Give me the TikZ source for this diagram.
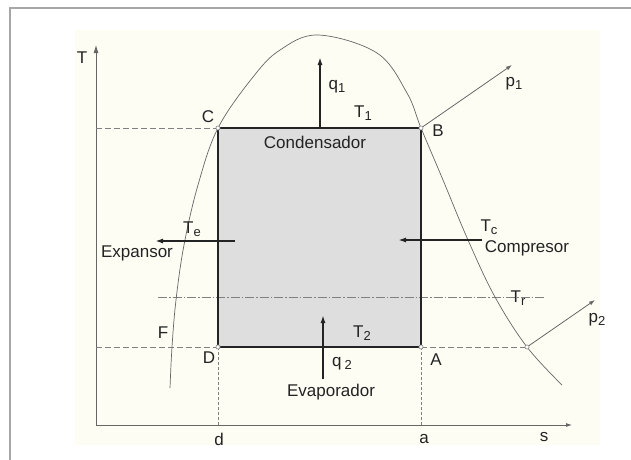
\documentclass[tikz,border=0pt]{standalone}
\usepackage{fontspec}
\setmainfont{Liberation Sans}
\usetikzlibrary{arrows.meta,positioning}
\definecolor{cream}{RGB}{253,253,244}
\definecolor{ink}{RGB}{35,35,35}
\newcommand{\lowidx}[1]{\raisebox{-0.35ex}{\fontsize{13}{14}\selectfont #1}}
\tikzset{
  lbl/.style={font=\fontsize{17}{19}\selectfont, text=ink, inner sep=1pt},
  vtx/.style={circle, draw=gray, fill=white, inner sep=1.5pt, line width=0.6pt},
  guide/.style={gray, dash pattern=on 6pt off 3pt, line width=0.8pt},
  heat/.style={->, line width=1.6pt, draw=ink},
  press/.style={-{Latex[length=6pt,width=4pt]}, gray!80!black, line width=0.8pt}
}
\begin{document}
\begin{tikzpicture}[x=1pt, y=-1pt, >={Latex[length=8pt,width=5pt]}]
  \useasboundingbox (0,0) rectangle (631,459);
  \fill[cream] (75,30) rectangle (600,445);
  \draw[gray!70, line width=1.3pt] (10,8) rectangle (680,500);

  % axes
  \coordinate (O) at (96,425);
  \coordinate (Ttop) at (96,45);
  \coordinate (Send) at (572,425);
  \draw[->, gray!80!black, line width=0.8pt] (O) -- (Ttop);
  \draw[press] (O) -- (Send);
  \node[lbl] (T) at (82,58) {T};
  \node[lbl] (s) at (544,437) {s};

  % cycle corners
  \coordinate (C) at (218,128);
  \coordinate (B) at (421,128);
  \coordinate (D) at (218,347);
  \coordinate (A) at (421,347);
  \coordinate (E) at (527,347);
  \fill[black!13] (C) rectangle (A);

  % guide lines
  \draw[guide] (O |- C) -- (C);
  \draw[guide] (O |- D) -- (D);
  \draw[guide] (A) -- (E);
  \foreach \p in {D,A}{
    \draw[gray, dash pattern=on 3pt off 2pt, line width=0.8pt] (\p) -- (\p |- O);
  }
  \coordinate (r0) at (158,297);
  \coordinate (r1) at (545,297);
  \draw[gray, line width=0.7pt, dash pattern=on 9pt off 2pt on 1.5pt off 2pt] (r0) -- (r1);

  % saturation dome
  \draw[gray!80!black, line width=0.7pt] plot[smooth, tension=0.6] coordinates {
    (170,388) (172,347) (176,300) (184,245) (198,185) (218,128) (253,77) (280,50)
    (318,35) (377,53) (407,93) (421,128) (443,180) (468,240) (495,297) (527,347) (562,385)};

  % cycle
  \draw[line width=1.8pt, ink] (C) -- (B) -- (A) -- (D) -- cycle;
  \foreach \p in {C,B,D,A,E}{
    \node[vtx] (\p c) at (\p) {};
  }

  % heat and work arrows
  \coordinate (q1s) at (320,128); \coordinate (q1e) at (320,57);
  \coordinate (q2s) at (323,379); \coordinate (q2e) at (323,315);
  \coordinate (tes) at (235,241); \coordinate (tee) at (155,241);
  \coordinate (tcs) at (482,240); \coordinate (tce) at (398,240);
  \draw[heat] (q1s) -- (q1e);
  \draw[heat] (q2s) -- (q2e);
  \draw[heat] (tes) -- (tee);
  \draw[heat] (tcs) -- (tce);

  % pressure lines
  \coordinate (p1e) at (512,65);
  \coordinate (p2e) at (595,300);
  \draw[press] (Bc) -- (p1e);
  \draw[press] (Ec) -- (p2e);

  % labels
  \node[lbl] (lC) at (208,117) {C};
  \node[lbl] (lB) at (438,131) {B};
  \node[lbl] (lD) at (209,358) {D};
  \node[lbl] (lA) at (436,360) {A};
  \node[lbl] (lF) at (163,333) {F};
  \node[lbl] (ld) at (219,439) {d};
  \node[lbl] (la) at (424,439) {a};
  \node[lbl] (q1) at (337,87) {q\lowidx{1}};
  \node[lbl] (T1) at (363,113) {T\lowidx{1}};
  \node[lbl] (cond) at (315,142) {Condensador};
  \node[lbl] (p1) at (514,84) {p\lowidx{1}};
  \node[lbl] (Tc) at (489,227) {T\lowidx{c}};
  \node[lbl] (comp) at (527,248) {Compresor};
  \node[lbl] (Te) at (192,229) {T\lowidx{e}};
  \node[lbl] (expa) at (137,253) {Expansor};
  \node[lbl] (Tr) at (518,298) {T\lowidx{r}};
  \node[lbl] (p2) at (597,320) {p\lowidx{2}};
  \node[lbl] (T2) at (362,333) {T\lowidx{2}};
  \node[lbl] (q2) at (342,364) {q\,\lowidx{2}};
  \node[lbl] (evap) at (331,392) {Evaporador};
\end{tikzpicture}
\end{document}
